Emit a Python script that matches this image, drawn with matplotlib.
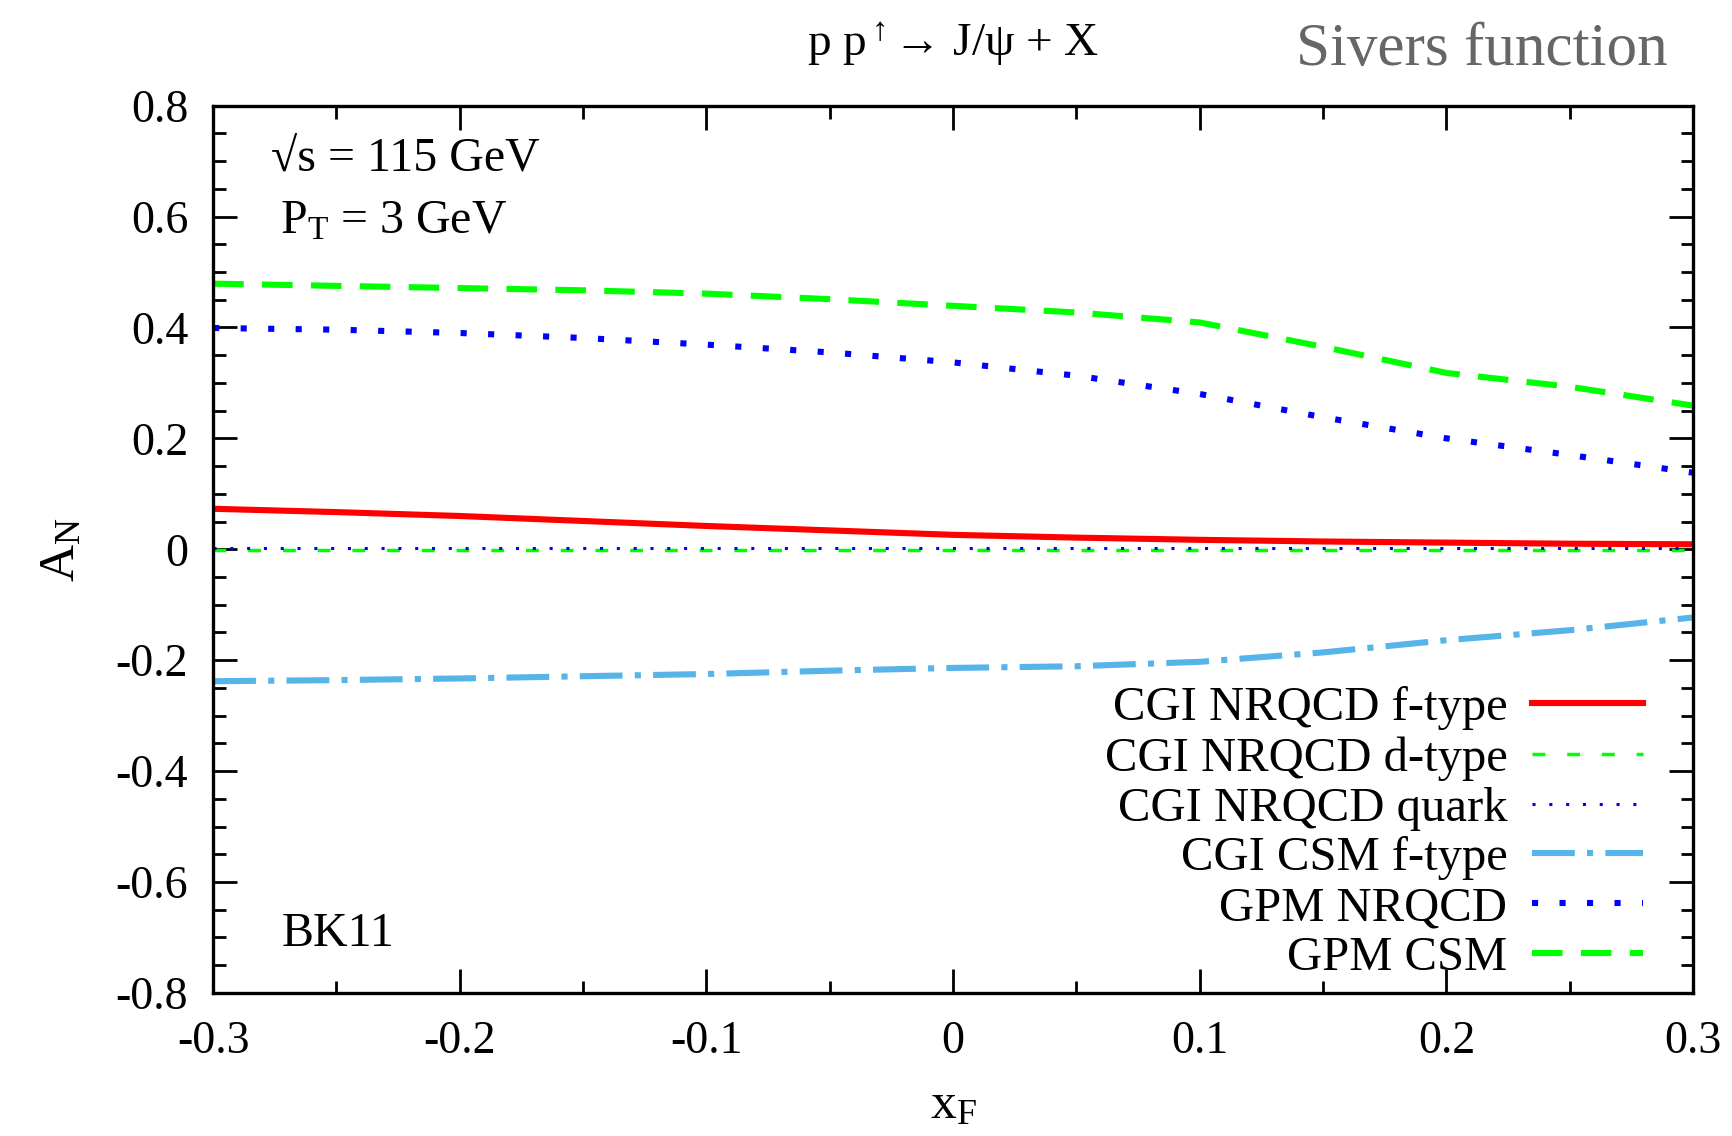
import numpy as np
import matplotlib
matplotlib.use('Agg')
import matplotlib.pyplot as plt
from matplotlib.ticker import FixedLocator, MultipleLocator

plt.rcParams['font.family'] = ['Liberation Serif', 'DejaVu Serif']
plt.rcParams['mathtext.fontset'] = 'custom'
plt.rcParams['mathtext.rm'] = 'Liberation Serif'
plt.rcParams['mathtext.it'] = 'Liberation Serif:italic'

# x_F grid, values
xf = [-0.30, -0.25, -0.20, -0.15, -0.10, -0.05, 0.00, 0.05, 0.10, 0.15, 0.20, 0.25, 0.30]

cgi_nrqcd_f = [0.073, 0.067, 0.060, 0.051, 0.042, 0.034, 0.026, 0.021, 0.017, 0.014, 0.012, 0.010, 0.009]
cgi_nrqcd_d = [-0.002] * 13
cgi_nrqcd_q = [0.003] * 13
cgi_csm_f = [-0.238, -0.236, -0.233, -0.229, -0.225, -0.219, -0.214, -0.211, -0.203, -0.186, -0.164, -0.146, -0.123]
gpm_nrqcd = [0.399, 0.396, 0.390, 0.381, 0.369, 0.355, 0.337, 0.313, 0.280, 0.238, 0.200, 0.170, 0.138]
gpm_csm = [0.479, 0.475, 0.471, 0.467, 0.461, 0.451, 0.439, 0.427, 0.409, 0.365, 0.318, 0.293, 0.259]

labels = ['CGI NRQCD f-type', 'CGI NRQCD d-type', 'CGI NRQCD quark',
          'CGI CSM f-type', 'GPM NRQCD', 'GPM CSM']

xticks = [-0.3, -0.2, -0.1, 0, 0.1, 0.2, 0.3]
yticks = [-0.8, -0.6, -0.4, -0.2, 0, 0.2, 0.4, 0.6, 0.8]

fig = plt.figure(figsize=(17.33, 11.36), dpi=100)
ax = fig.add_axes([0.123, 0.126, 0.854, 0.781])

ax.plot(xf, cgi_nrqcd_f, color='#ff0000', lw=4.4, label=labels[0])
ax.plot(xf, cgi_nrqcd_d, color='#00ff00', lw=2.5, dashes=(3.7, 6.3), label=labels[1])
ax.plot(xf, cgi_nrqcd_q, color='#0000ff', lw=2.2, dashes=(1, 4.5), label=labels[2])
ax.plot(xf, cgi_csm_f, color='#56b4e9', lw=4.4, dashes=(7, 2, 1, 2), label=labels[3])
ax.plot(xf, gpm_nrqcd, color='#0000ff', lw=4.4, dashes=(1, 3.5), label=labels[4])
ax.plot(xf, gpm_csm, color='#00ff00', lw=4.4, dashes=(5, 3), label=labels[5])

ax.set_xlim(-0.3, 0.3)
ax.set_ylim(-0.8, 0.8)
ax.xaxis.set_major_locator(FixedLocator(xticks))
ax.xaxis.set_minor_locator(MultipleLocator(0.05))
ax.yaxis.set_major_locator(FixedLocator(yticks))
ax.yaxis.set_minor_locator(MultipleLocator(0.05))
ax.set_xticklabels(['%g' % v for v in xticks])
ax.set_yticklabels(['%g' % v for v in yticks])
ax.tick_params(which='both', direction='in', top=True, right=True, width=2, labelsize=33)
ax.tick_params(which='major', length=17)
ax.tick_params(axis='x', which='major', pad=20)
ax.tick_params(axis='y', which='major', pad=18)
ax.tick_params(which='minor', length=9)
for s in ax.spines.values():
    s.set_linewidth(2.4)

ax.set_xlabel(r'$\mathrm{x}_\mathrm{F}$', fontsize=37, labelpad=14)
ax.set_ylabel(r'$\mathrm{A}_\mathrm{N}$', fontsize=37, labelpad=22)

fig.text(0.55, 0.961, r'p p$^{\uparrow}$→ J/ψ + X', fontsize=34, ha='center', va='center')
fig.text(0.855, 0.956, 'Sivers function', fontsize=44, color='#666666', ha='center', va='center')

ax.text(0.039, 0.939, '√s = 115 GeV', transform=ax.transAxes, fontsize=34.5, va='center')
ax.text(0.045, 0.870, r'P$_\mathrm{T}$ = 3 GeV', transform=ax.transAxes, fontsize=34.5, va='center')
ax.text(0.046, 0.066, 'BK11', transform=ax.transAxes, fontsize=34.5, va='center')

ax.legend(loc='lower right', bbox_to_anchor=(0.996, -0.035), frameon=False, fontsize=35,
          markerfirst=False, handlelength=2.3, labelspacing=0.12, handletextpad=0.5)

fig.savefig('out.png', dpi=100)
